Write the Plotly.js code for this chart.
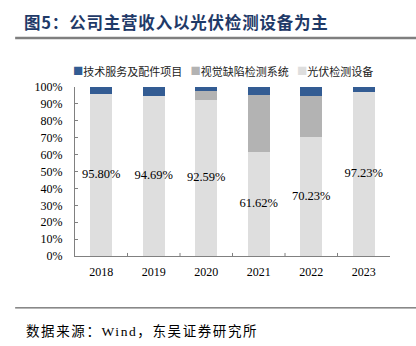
<!DOCTYPE html>
<html>
<head>
<meta charset="utf-8">
<script src="https://cdn.plot.ly/plotly-3.0.1.min.js"></script>
<style>body{margin:0;padding:0;background:#fff;}#chart{width:416px;height:346px;}</style>
</head>
<body>
<div id="chart"></div>
<script>
const years = ['2018', '2019', '2020', '2021', '2022', '2023'];
const pvInspection = [95.80, 94.69, 92.59, 61.62, 70.23, 97.23];
const visualDefect = [0, 0, 5.0, 33.5, 24.3, 0];
const techService = [4.20, 5.31, 2.41, 4.88, 5.47, 2.77];
const seriesNames = ['光伏检测设备', '视觉缺陷检测系统', '技术服务及配件项目'];
const seriesColors = ['#dedede', '#b3b3b3', '#335c93'];
const yTicks = [0, 10, 20, 30, 40, 50, 60, 70, 80, 90, 100];

const serif = '"Liberation Serif", "Times New Roman", "Noto Sans CJK SC", serif';
const cjk = '"Liberation Serif", "Noto Sans CJK SC", serif';

const traces = [
  {type: 'bar', x: years, y: pvInspection, name: seriesNames[0], marker: {color: seriesColors[0]}, width: 0.42, hoverinfo: 'skip'},
  {type: 'bar', x: years, y: visualDefect, name: seriesNames[1], marker: {color: seriesColors[1]}, width: 0.42, hoverinfo: 'skip'},
  {type: 'bar', x: years, y: techService, name: seriesNames[2], marker: {color: seriesColors[2]}, width: 0.42, hoverinfo: 'skip'},
  {type: 'scatter', mode: 'text', x: years, y: pvInspection.map(v => v / 2),
   text: pvInspection.map(v => v.toFixed(2) + '%'), textposition: 'middle center',
   textfont: {family: serif, size: 12.5, color: '#000'}, showlegend: false, hoverinfo: 'skip'}
];

// legend built as text with coloured squares, in reversed (top-of-stack first) order
const legendHtml = [2, 1, 0].map(i =>
  '<span style="color:' + seriesColors[i] + ';font-size:17px">■</span>' + seriesNames[i]
).join('&nbsp;&nbsp;&nbsp;');

const layout = {
  width: 416, height: 346,
  margin: {l: 75, r: 25.5, t: 87, b: 90},
  paper_bgcolor: '#fff', plot_bgcolor: '#fff',
  barmode: 'stack',
  showlegend: false,
  title: {
    text: '<b><span style="letter-spacing:0.8px">图5：公司主营收入以光伏检测设备为主</span></b>',
    font: {family: '"Noto Sans CJK SC", serif', size: 16.5, color: '#1f3a68'},
    x: 24 / 416, xref: 'container', xanchor: 'left',
    y: 1 - 23 / 346, yref: 'container', yanchor: 'middle'
  },
  xaxis: {
    type: 'category', range: [-0.5, 5.5],
    showline: true, linecolor: '#808080', linewidth: 1,
    ticks: '', showgrid: false, zeroline: false,
    ticklabelstandoff: 5,
    tickfont: {family: serif, size: 12, color: '#000'},
    fixedrange: true
  },
  yaxis: {
    range: [0, 100], tickvals: yTicks, ticktext: yTicks.map(v => v + '%'),
    showline: true, linecolor: '#808080', linewidth: 1,
    ticks: 'inside', ticklen: 3, tickcolor: '#808080',
    showgrid: false, zeroline: false,
    ticklabelstandoff: 9,
    tickfont: {family: serif, size: 12, color: '#000'},
    fixedrange: true
  },
  shapes: [
    {type: 'line', xref: 'paper', yref: 'paper', x0: -0.19, x1: 1.09, y0: 1.29, y1: 1.29, line: {color: '#7f7f7f', width: 2.5}},
    {type: 'line', xref: 'paper', yref: 'paper', x0: -0.19, x1: 1.09, y0: -0.307, y1: -0.307, line: {color: '#404040', width: 1}}
  ].concat([0.5, 1.5, 2.5, 3.5, 4.5].map(b => ({
    type: 'line', xref: 'x', yref: 'paper', x0: b, x1: b, y0: 0, y1: 0.018, line: {color: '#808080', width: 1}
  }))),
  annotations: [
    {text: legendHtml, xref: 'paper', yref: 'paper', x: (71 - 75) / 315.5, y: (256 - 70) / 169.3,
     xanchor: 'left', yanchor: 'middle', showarrow: false,
     font: {family: cjk, size: 11, color: '#222'}},
    {text: '<span style="letter-spacing:1.6px">数据来源：Wind，东吴证券研究所</span>', xref: 'paper', yref: 'paper', x: (24 - 75) / 315.5, y: -0.446,
     xanchor: 'left', yanchor: 'middle', showarrow: false,
     font: {family: cjk, size: 13.5, color: '#000'}}
  ]
};

Plotly.newPlot('chart', traces, layout, {displayModeBar: false, staticPlot: true});
</script>
</body>
</html>
